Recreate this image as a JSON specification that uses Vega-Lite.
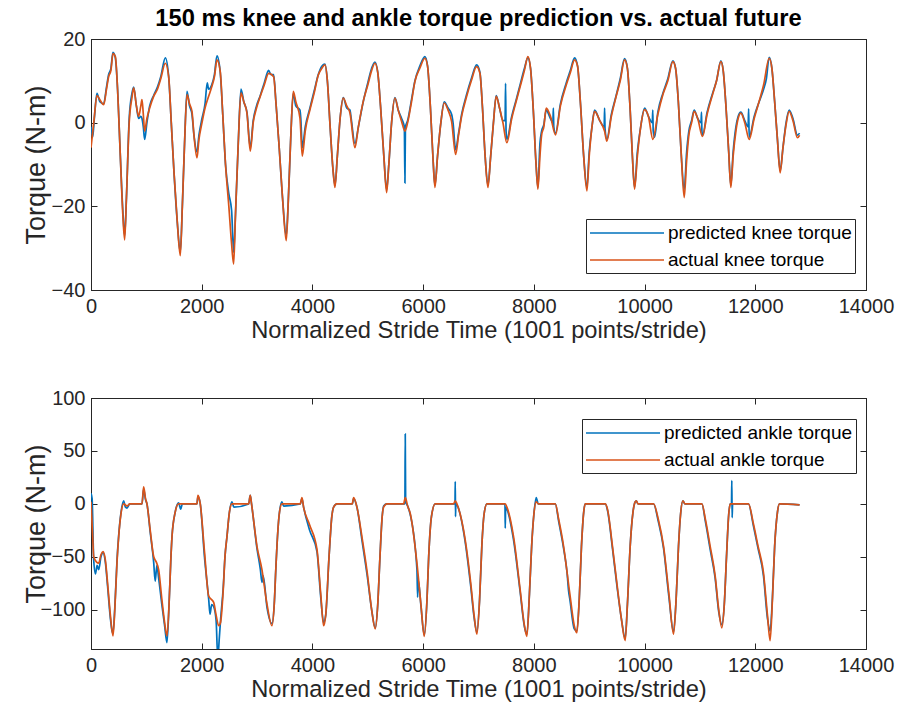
{
  "$schema": "https://vega.github.io/schema/vega-lite/v6.json",
  "background": "white",
  "padding": {"left": 21, "top": 6, "right": 4, "bottom": 8},
  "datasets": {
    "kp": [{"x":0,"y":-1},{"x":30,"y":-3.5},{"x":60,"y":1},{"x":108,"y":7},{"x":160,"y":5},{"x":229,"y":4.5},{"x":280,"y":8.5},{"x":319,"y":11.5},{"x":360,"y":13},{"x":397,"y":16.8},{"x":440,"y":15.5},{"x":480,"y":8},{"x":530,"y":-8},{"x":575,"y":-21},{"x":608,"y":-27},{"x":640,"y":-18},{"x":690,"y":1},{"x":740,"y":7},{"x":771,"y":8.5},{"x":820,"y":4},{"x":861,"y":1},{"x":900,"y":1.5},{"x":921,"y":1},{"x":945,"y":-1},{"x":969,"y":-4},{"x":1010,"y":0},{"x":1060,"y":4},{"x":1132,"y":6.5},{"x":1200,"y":8.5},{"x":1260,"y":11},{"x":1343,"y":15.5},{"x":1403,"y":11},{"x":1450,"y":0},{"x":1500,"y":-12},{"x":1560,"y":-24},{"x":1613,"y":-31},{"x":1650,"y":-20},{"x":1690,"y":-5},{"x":1734,"y":7.5},{"x":1780,"y":4},{"x":1824,"y":2},{"x":1860,"y":-3},{"x":1914,"y":-7},{"x":1950,"y":-3},{"x":2005,"y":1},{"x":2060,"y":4.5},{"x":2100,"y":9.5},{"x":2125,"y":8},{"x":2180,"y":9},{"x":2230,"y":11.5},{"x":2276,"y":16},{"x":2335,"y":12},{"x":2380,"y":2},{"x":2430,"y":-10},{"x":2490,"y":-17},{"x":2540,"y":-21},{"x":2577,"y":-31},{"x":2610,"y":-22},{"x":2660,"y":-5},{"x":2709,"y":8},{"x":2760,"y":5},{"x":2817,"y":2.5},{"x":2878,"y":-6},{"x":2930,"y":0.5},{"x":2990,"y":4},{"x":3058,"y":6.5},{"x":3130,"y":9.5},{"x":3209,"y":12.5},{"x":3250,"y":11.5},{"x":3299,"y":11.5},{"x":3340,"y":5},{"x":3400,"y":-6},{"x":3460,"y":-18},{"x":3527,"y":-27},{"x":3560,"y":-20},{"x":3610,"y":-3},{"x":3654,"y":7},{"x":3700,"y":4},{"x":3775,"y":3},{"x":3790,"y":1},{"x":3817,"y":-6},{"x":3870,"y":-1},{"x":3955,"y":3.5},{"x":4030,"y":7.5},{"x":4106,"y":11.5},{"x":4170,"y":13.5},{"x":4226,"y":14},{"x":4270,"y":10},{"x":4320,"y":-1},{"x":4370,"y":-11},{"x":4407,"y":-15},{"x":4450,"y":-8},{"x":4500,"y":1},{"x":4557,"y":6},{"x":4620,"y":3.5},{"x":4678,"y":3},{"x":4700,"y":1},{"x":4768,"y":-5},{"x":4830,"y":-1},{"x":4918,"y":5},{"x":5000,"y":9.5},{"x":5070,"y":13},{"x":5129,"y":14.5},{"x":5180,"y":12},{"x":5230,"y":4},{"x":5290,"y":-8},{"x":5340,"y":-16},{"x":5380,"y":-10},{"x":5430,"y":0},{"x":5490,"y":6},{"x":5550,"y":3},{"x":5611,"y":1},{"x":5660,"y":-1},{"x":5671,"y":-14.4},{"x":5680,"y":-1},{"x":5720,"y":0.5},{"x":5790,"y":5.5},{"x":5851,"y":10},{"x":5940,"y":13.5},{"x":6032,"y":15.8},{"x":6080,"y":13.5},{"x":6130,"y":4},{"x":6180,"y":-9},{"x":6213,"y":-15},{"x":6260,"y":-8},{"x":6320,"y":0},{"x":6381,"y":5},{"x":6450,"y":3.5},{"x":6514,"y":2},{"x":6540,"y":0},{"x":6587,"y":-6.5},{"x":6640,"y":-2.5},{"x":6695,"y":2},{"x":6780,"y":6.5},{"x":6870,"y":10.5},{"x":6966,"y":13.8},{"x":7026,"y":12},{"x":7070,"y":4},{"x":7120,"y":-8},{"x":7170,"y":-15},{"x":7220,"y":-8},{"x":7270,"y":0},{"x":7320,"y":6.5},{"x":7380,"y":3.5},{"x":7441,"y":0.5},{"x":7480,"y":0.5},{"x":7489,"y":9.4},{"x":7498,"y":-2},{"x":7513,"y":-4},{"x":7600,"y":1.5},{"x":7681,"y":5.5},{"x":7760,"y":9.5},{"x":7830,"y":13},{"x":7892,"y":15.5},{"x":7940,"y":13},{"x":7990,"y":3},{"x":8040,"y":-10},{"x":8073,"y":-15.5},{"x":8110,"y":-5},{"x":8140,"y":-2},{"x":8180,"y":-0.5},{"x":8223,"y":3},{"x":8300,"y":1},{"x":8344,"y":0},{"x":8352,"y":3.5},{"x":8360,"y":-1},{"x":8392,"y":-2.5},{"x":8480,"y":4.5},{"x":8585,"y":9.5},{"x":8660,"y":12.5},{"x":8736,"y":15.5},{"x":8790,"y":13.5},{"x":8840,"y":5},{"x":8900,"y":-8},{"x":8958,"y":-15.5},{"x":9000,"y":-7},{"x":9050,"y":-1},{"x":9097,"y":3},{"x":9190,"y":0.5},{"x":9270,"y":-1},{"x":9278,"y":3.5},{"x":9286,"y":-1.5},{"x":9319,"y":-4},{"x":9400,"y":2},{"x":9487,"y":6.5},{"x":9560,"y":10.5},{"x":9639,"y":15.3},{"x":9690,"y":13},{"x":9740,"y":3},{"x":9780,"y":-8},{"x":9819,"y":-15.5},{"x":9870,"y":-7},{"x":9930,"y":-1},{"x":10000,"y":3.5},{"x":10070,"y":1.5},{"x":10140,"y":0},{"x":10148,"y":3},{"x":10156,"y":-2},{"x":10180,"y":-3.5},{"x":10240,"y":2.5},{"x":10330,"y":7},{"x":10420,"y":10.5},{"x":10511,"y":14.8},{"x":10560,"y":13},{"x":10610,"y":5},{"x":10660,"y":-7},{"x":10716,"y":-16},{"x":10760,"y":-7},{"x":10800,"y":-2},{"x":10850,"y":0.5},{"x":10896,"y":3},{"x":10960,"y":1},{"x":11020,"y":0},{"x":11028,"y":2.5},{"x":11036,"y":-2},{"x":11047,"y":-3},{"x":11130,"y":2.5},{"x":11228,"y":7},{"x":11300,"y":10},{"x":11378,"y":14.8},{"x":11420,"y":12.5},{"x":11470,"y":4},{"x":11520,"y":-7},{"x":11558,"y":-15},{"x":11600,"y":-7},{"x":11650,"y":-1},{"x":11690,"y":1.5},{"x":11739,"y":2.5},{"x":11810,"y":0.5},{"x":11870,"y":-1},{"x":11880,"y":3.3},{"x":11890,"y":-3.5},{"x":11980,"y":1.5},{"x":12070,"y":5},{"x":12150,"y":8},{"x":12200,"y":10.5},{"x":12251,"y":15.6},{"x":12300,"y":13},{"x":12350,"y":5},{"x":12400,"y":-4},{"x":12449,"y":-11.5},{"x":12500,"y":-6},{"x":12550,"y":-0.5},{"x":12612,"y":3},{"x":12680,"y":1},{"x":12762,"y":-3},{"x":12800,"y":-2.5}],
    "ka": [{"x":0,"y":-6},{"x":50,"y":0},{"x":108,"y":6.5},{"x":160,"y":5.5},{"x":229,"y":4.3},{"x":280,"y":8},{"x":319,"y":11},{"x":360,"y":12.5},{"x":397,"y":16.5},{"x":440,"y":15.8},{"x":480,"y":8},{"x":530,"y":-8},{"x":575,"y":-22},{"x":608,"y":-28},{"x":640,"y":-18},{"x":690,"y":0},{"x":740,"y":6},{"x":771,"y":8.3},{"x":820,"y":4},{"x":861,"y":1.5},{"x":900,"y":4},{"x":921,"y":5.5},{"x":945,"y":2},{"x":969,"y":-2},{"x":1010,"y":1},{"x":1060,"y":3.5},{"x":1132,"y":6.3},{"x":1200,"y":8},{"x":1260,"y":10.5},{"x":1343,"y":14.2},{"x":1403,"y":11},{"x":1450,"y":0},{"x":1500,"y":-12},{"x":1560,"y":-24},{"x":1613,"y":-31.8},{"x":1650,"y":-20},{"x":1690,"y":-5},{"x":1734,"y":6.7},{"x":1780,"y":4.5},{"x":1824,"y":2.7},{"x":1860,"y":-3},{"x":1914,"y":-8.4},{"x":1950,"y":-4},{"x":2005,"y":0},{"x":2060,"y":3.5},{"x":2125,"y":6.3},{"x":2180,"y":8.5},{"x":2230,"y":11},{"x":2276,"y":15},{"x":2335,"y":12.2},{"x":2380,"y":2},{"x":2430,"y":-10},{"x":2490,"y":-20},{"x":2540,"y":-29},{"x":2577,"y":-33.8},{"x":2610,"y":-22},{"x":2660,"y":-5},{"x":2709,"y":7.1},{"x":2760,"y":5},{"x":2817,"y":2.3},{"x":2878,"y":-6.8},{"x":2930,"y":0},{"x":2990,"y":3.5},{"x":3058,"y":6.3},{"x":3130,"y":9},{"x":3209,"y":11.8},{"x":3299,"y":11},{"x":3340,"y":5},{"x":3400,"y":-6},{"x":3460,"y":-18},{"x":3527,"y":-28.2},{"x":3560,"y":-20},{"x":3610,"y":-3},{"x":3654,"y":7.5},{"x":3700,"y":5},{"x":3775,"y":1.1},{"x":3817,"y":-8},{"x":3870,"y":-2},{"x":3955,"y":3.1},{"x":4030,"y":7},{"x":4106,"y":11.4},{"x":4170,"y":13},{"x":4226,"y":13.8},{"x":4270,"y":10},{"x":4320,"y":-1},{"x":4370,"y":-11},{"x":4407,"y":-15.5},{"x":4450,"y":-8},{"x":4500,"y":1},{"x":4557,"y":5.9},{"x":4620,"y":4},{"x":4678,"y":2.3},{"x":4768,"y":-6},{"x":4830,"y":-1},{"x":4918,"y":5.1},{"x":5000,"y":9},{"x":5070,"y":12.5},{"x":5129,"y":14.2},{"x":5180,"y":12},{"x":5230,"y":4},{"x":5290,"y":-8},{"x":5340,"y":-16.7},{"x":5380,"y":-10},{"x":5430,"y":0},{"x":5490,"y":5.9},{"x":5550,"y":3},{"x":5611,"y":0.3},{"x":5671,"y":-2},{"x":5720,"y":0},{"x":5790,"y":5},{"x":5851,"y":9.8},{"x":5940,"y":13},{"x":6032,"y":15.4},{"x":6080,"y":13.5},{"x":6130,"y":4},{"x":6180,"y":-9},{"x":6213,"y":-15.5},{"x":6260,"y":-8},{"x":6320,"y":0},{"x":6381,"y":4.7},{"x":6450,"y":3},{"x":6514,"y":0.3},{"x":6587,"y":-7.6},{"x":6640,"y":-3},{"x":6695,"y":1.5},{"x":6780,"y":6},{"x":6870,"y":10},{"x":6966,"y":13.4},{"x":7026,"y":11.8},{"x":7070,"y":4},{"x":7120,"y":-8},{"x":7170,"y":-15.5},{"x":7220,"y":-8},{"x":7270,"y":0},{"x":7320,"y":6.3},{"x":7380,"y":3.5},{"x":7441,"y":0},{"x":7513,"y":-4.8},{"x":7600,"y":1},{"x":7681,"y":5.1},{"x":7760,"y":9},{"x":7830,"y":12.5},{"x":7892,"y":15.8},{"x":7940,"y":13},{"x":7990,"y":3},{"x":8040,"y":-10},{"x":8073,"y":-15.9},{"x":8110,"y":-8},{"x":8140,"y":-3},{"x":8180,"y":-1},{"x":8223,"y":3.5},{"x":8300,"y":1.5},{"x":8392,"y":-2.9},{"x":8480,"y":4},{"x":8585,"y":9},{"x":8660,"y":12},{"x":8736,"y":15},{"x":8790,"y":13.5},{"x":8840,"y":5},{"x":8900,"y":-8},{"x":8958,"y":-16.3},{"x":9000,"y":-8},{"x":9050,"y":-1},{"x":9097,"y":2.7},{"x":9190,"y":0.5},{"x":9277,"y":-2},{"x":9319,"y":-4.4},{"x":9400,"y":1.5},{"x":9487,"y":6.3},{"x":9560,"y":10},{"x":9639,"y":15},{"x":9690,"y":13},{"x":9740,"y":3},{"x":9780,"y":-8},{"x":9819,"y":-15.9},{"x":9870,"y":-8},{"x":9930,"y":-1},{"x":10000,"y":3.1},{"x":10070,"y":1.5},{"x":10150,"y":-4},{"x":10240,"y":2},{"x":10330,"y":6.7},{"x":10420,"y":10},{"x":10511,"y":14.6},{"x":10560,"y":13},{"x":10610,"y":5},{"x":10660,"y":-7},{"x":10716,"y":-17.9},{"x":10760,"y":-9},{"x":10800,"y":-3},{"x":10850,"y":0},{"x":10896,"y":2.7},{"x":10960,"y":1},{"x":11047,"y":-3.3},{"x":11130,"y":2},{"x":11228,"y":6.7},{"x":11300,"y":10},{"x":11378,"y":14.6},{"x":11420,"y":12.5},{"x":11470,"y":4},{"x":11520,"y":-7},{"x":11558,"y":-15.5},{"x":11600,"y":-8},{"x":11650,"y":-2},{"x":11690,"y":1},{"x":11739,"y":2.3},{"x":11810,"y":0},{"x":11890,"y":-4},{"x":11980,"y":1},{"x":12070,"y":5.1},{"x":12150,"y":9},{"x":12251,"y":15.4},{"x":12300,"y":13},{"x":12350,"y":5},{"x":12400,"y":-4},{"x":12449,"y":-12},{"x":12500,"y":-6},{"x":12550,"y":-1},{"x":12612,"y":2.7},{"x":12680,"y":0.5},{"x":12762,"y":-3.6},{"x":12800,"y":-3}],
    "ap": [{"x":0,"y":10},{"x":20,"y":5},{"x":48,"y":-52},{"x":80,"y":-66},{"x":110,"y":-58},{"x":139,"y":-62},{"x":180,"y":-50},{"x":217,"y":-46},{"x":259,"y":-55},{"x":300,"y":-78},{"x":350,"y":-108},{"x":380,"y":-120},{"x":397,"y":-122},{"x":430,"y":-98},{"x":470,"y":-53},{"x":500,"y":-30},{"x":540,"y":-9},{"x":590,"y":3},{"x":620,"y":-3},{"x":650,"y":-4},{"x":700,"y":0},{"x":921,"y":0},{"x":951,"y":14},{"x":985,"y":4},{"x":1011,"y":0},{"x":1070,"y":-27},{"x":1132,"y":-55},{"x":1160,"y":-73},{"x":1190,"y":-58},{"x":1222,"y":-70},{"x":1280,"y":-95},{"x":1330,"y":-115},{"x":1372,"y":-131},{"x":1410,"y":-95},{"x":1440,"y":-55},{"x":1463,"y":-31},{"x":1520,"y":-8},{"x":1583,"y":1},{"x":1620,"y":-5},{"x":1650,"y":0},{"x":1914,"y":0},{"x":1932,"y":7},{"x":1974,"y":0},{"x":2050,"y":-50},{"x":2126,"y":-90},{"x":2150,"y":-104},{"x":2180,"y":-95},{"x":2216,"y":-97},{"x":2260,"y":-110},{"x":2290,"y":-145},{"x":2320,"y":-125},{"x":2340,"y":-110},{"x":2390,"y":-78},{"x":2420,"y":-50},{"x":2456,"y":-31},{"x":2500,"y":-8},{"x":2546,"y":2},{"x":2580,"y":-3},{"x":2848,"y":0},{"x":2877,"y":8},{"x":2900,"y":0},{"x":2998,"y":-42},{"x":3060,"y":-62},{"x":3088,"y":-74},{"x":3110,"y":-68},{"x":3180,"y":-98},{"x":3269,"y":-113},{"x":3310,"y":-95},{"x":3340,"y":-60},{"x":3359,"y":-40},{"x":3400,"y":-10},{"x":3449,"y":2},{"x":3480,"y":-2},{"x":3780,"y":0},{"x":3811,"y":5},{"x":3840,"y":-3},{"x":3950,"y":-25},{"x":4082,"y":-45},{"x":4150,"y":-88},{"x":4202,"y":-112},{"x":4240,"y":-105},{"x":4300,"y":-50},{"x":4350,"y":-12},{"x":4383,"y":-3},{"x":4443,"y":0},{"x":4720,"y":0},{"x":4744,"y":5},{"x":4804,"y":-3},{"x":4894,"y":-34},{"x":4990,"y":-68},{"x":5070,"y":-100},{"x":5135,"y":-117},{"x":5180,"y":-95},{"x":5220,"y":-50},{"x":5260,"y":-12},{"x":5286,"y":-2},{"x":5346,"y":0},{"x":5647,"y":0},{"x":5670,"y":0},{"x":5677,"y":66},{"x":5684,"y":2},{"x":5720,"y":-2},{"x":5767,"y":-10},{"x":5888,"y":-62},{"x":5900,"y":-88},{"x":5912,"y":-72},{"x":5960,"y":-96},{"x":6020,"y":-124},{"x":6070,"y":-90},{"x":6100,"y":-50},{"x":6150,"y":-12},{"x":6218,"y":0},{"x":6550,"y":0},{"x":6575,"y":0},{"x":6580,"y":21},{"x":6585,"y":-12},{"x":6590,"y":0},{"x":6610,"y":-1},{"x":6760,"y":-36},{"x":6860,"y":-78},{"x":6920,"y":-107},{"x":6971,"y":-121},{"x":7020,"y":-90},{"x":7060,"y":-40},{"x":7100,"y":-10},{"x":7152,"y":0},{"x":7478,"y":0},{"x":7483,"y":-23},{"x":7490,"y":-3},{"x":7513,"y":-5},{"x":7633,"y":-34},{"x":7750,"y":-82},{"x":7830,"y":-116},{"x":7874,"y":-123},{"x":7920,"y":-85},{"x":7960,"y":-40},{"x":8000,"y":-10},{"x":8042,"y":6},{"x":8080,"y":0},{"x":8387,"y":0},{"x":8450,"y":-17},{"x":8537,"y":-42},{"x":8600,"y":-65},{"x":8627,"y":-82},{"x":8650,"y":-90},{"x":8730,"y":-118},{"x":8777,"y":-120},{"x":8820,"y":-90},{"x":8860,"y":-40},{"x":8900,"y":-8},{"x":8927,"y":0},{"x":9290,"y":0},{"x":9330,"y":-6},{"x":9420,"y":-42},{"x":9500,"y":-77},{"x":9580,"y":-108},{"x":9650,"y":-127},{"x":9690,"y":-95},{"x":9740,"y":-40},{"x":9790,"y":-8},{"x":9830,"y":2},{"x":9850,"y":3},{"x":9880,"y":0},{"x":10162,"y":0},{"x":10250,"y":-17},{"x":10343,"y":-42},{"x":10440,"y":-88},{"x":10523,"y":-121},{"x":10570,"y":-90},{"x":10613,"y":-40},{"x":10650,"y":-10},{"x":10692,"y":3},{"x":10730,"y":0},{"x":11035,"y":0},{"x":11100,"y":-17},{"x":11185,"y":-43},{"x":11275,"y":-70},{"x":11340,"y":-102},{"x":11396,"y":-114},{"x":11440,"y":-95},{"x":11480,"y":-50},{"x":11520,"y":-10},{"x":11546,"y":0},{"x":11570,"y":0},{"x":11576,"y":22},{"x":11582,"y":-13},{"x":11590,"y":0},{"x":11877,"y":0},{"x":11967,"y":-21},{"x":12050,"y":-42},{"x":12148,"y":-68},{"x":12220,"y":-108},{"x":12268,"y":-120},{"x":12310,"y":-88},{"x":12350,"y":-40},{"x":12400,"y":-8},{"x":12437,"y":0},{"x":12800,"y":-1}],
    "aa": [{"x":0,"y":2},{"x":30,"y":-30},{"x":48,"y":-49.7},{"x":100,"y":-55},{"x":139,"y":-56},{"x":180,"y":-48},{"x":217,"y":-45},{"x":259,"y":-52.8},{"x":300,"y":-75},{"x":350,"y":-105},{"x":397,"y":-124.7},{"x":430,"y":-100},{"x":470,"y":-55},{"x":500,"y":-31},{"x":540,"y":-10},{"x":590,"y":0},{"x":650,"y":-2},{"x":700,"y":0},{"x":921,"y":0},{"x":951,"y":16},{"x":985,"y":5},{"x":1011,"y":0},{"x":1070,"y":-25},{"x":1132,"y":-49.7},{"x":1180,"y":-55},{"x":1222,"y":-62},{"x":1280,"y":-90},{"x":1330,"y":-112},{"x":1372,"y":-124.7},{"x":1410,"y":-95},{"x":1440,"y":-55},{"x":1463,"y":-31},{"x":1520,"y":-8},{"x":1583,"y":0},{"x":1914,"y":0},{"x":1932,"y":8},{"x":1974,"y":0},{"x":2050,"y":-45},{"x":2126,"y":-87},{"x":2216,"y":-93},{"x":2260,"y":-105},{"x":2306,"y":-115},{"x":2340,"y":-112},{"x":2390,"y":-80},{"x":2420,"y":-50},{"x":2456,"y":-31},{"x":2500,"y":-8},{"x":2546,"y":0},{"x":2848,"y":0},{"x":2877,"y":8},{"x":2900,"y":0},{"x":2998,"y":-40},{"x":3088,"y":-62},{"x":3180,"y":-95},{"x":3269,"y":-115},{"x":3310,"y":-95},{"x":3340,"y":-60},{"x":3359,"y":-40},{"x":3400,"y":-10},{"x":3449,"y":0},{"x":3780,"y":0},{"x":3811,"y":6},{"x":3840,"y":-3},{"x":3950,"y":-20},{"x":4082,"y":-43},{"x":4150,"y":-85},{"x":4202,"y":-115},{"x":4240,"y":-105},{"x":4300,"y":-50},{"x":4350,"y":-12},{"x":4383,"y":-3},{"x":4443,"y":0},{"x":4720,"y":0},{"x":4744,"y":6},{"x":4804,"y":-3},{"x":4894,"y":-31},{"x":4990,"y":-65},{"x":5070,"y":-100},{"x":5135,"y":-118},{"x":5180,"y":-95},{"x":5220,"y":-50},{"x":5260,"y":-12},{"x":5286,"y":-3},{"x":5346,"y":0},{"x":5647,"y":0},{"x":5677,"y":6},{"x":5720,"y":-2},{"x":5767,"y":-9},{"x":5888,"y":-56},{"x":5960,"y":-95},{"x":6020,"y":-125},{"x":6070,"y":-90},{"x":6100,"y":-50},{"x":6150,"y":-12},{"x":6218,"y":0},{"x":6550,"y":0},{"x":6580,"y":3},{"x":6610,"y":0},{"x":6760,"y":-34},{"x":6860,"y":-75},{"x":6920,"y":-105},{"x":6971,"y":-123},{"x":7020,"y":-90},{"x":7060,"y":-40},{"x":7100,"y":-10},{"x":7152,"y":0},{"x":7483,"y":0},{"x":7513,"y":-3},{"x":7633,"y":-31},{"x":7750,"y":-80},{"x":7830,"y":-115},{"x":7874,"y":-125},{"x":7920,"y":-85},{"x":7960,"y":-40},{"x":8000,"y":-10},{"x":8042,"y":2},{"x":8080,"y":0},{"x":8387,"y":0},{"x":8450,"y":-15},{"x":8537,"y":-40},{"x":8650,"y":-85},{"x":8730,"y":-115},{"x":8777,"y":-121.6},{"x":8820,"y":-90},{"x":8860,"y":-40},{"x":8900,"y":-8},{"x":8927,"y":0},{"x":9290,"y":0},{"x":9330,"y":-5},{"x":9420,"y":-40},{"x":9500,"y":-75},{"x":9580,"y":-108},{"x":9650,"y":-129},{"x":9690,"y":-95},{"x":9740,"y":-40},{"x":9790,"y":-8},{"x":9830,"y":2},{"x":9850,"y":3},{"x":9880,"y":0},{"x":10162,"y":0},{"x":10250,"y":-15},{"x":10343,"y":-40},{"x":10440,"y":-85},{"x":10523,"y":-123},{"x":10570,"y":-90},{"x":10613,"y":-40},{"x":10650,"y":-10},{"x":10692,"y":3},{"x":10730,"y":0},{"x":11035,"y":0},{"x":11100,"y":-15},{"x":11185,"y":-40},{"x":11275,"y":-68},{"x":11340,"y":-100},{"x":11396,"y":-117},{"x":11440,"y":-95},{"x":11480,"y":-50},{"x":11520,"y":-10},{"x":11546,"y":0},{"x":11877,"y":0},{"x":11967,"y":-19},{"x":12050,"y":-40},{"x":12148,"y":-65},{"x":12220,"y":-105},{"x":12268,"y":-129},{"x":12310,"y":-90},{"x":12350,"y":-40},{"x":12400,"y":-8},{"x":12437,"y":0},{"x":12800,"y":-1}]
  },
  "vconcat": [
    {
      "width": 775,
      "height": 251,
      "title": {"text": "150 ms knee and ankle torque prediction vs. actual future", "frame": "group", "anchor": "middle", "fontSize": 23.7, "fontWeight": "bold", "color": "#000000", "font": "Liberation Sans", "offset": -2},
      "layer": [
        {
          "data": {"name": "kp"},
          "mark": {"type": "line", "strokeWidth": 1.7, "clip": true, "interpolate": "monotone"},
          "encoding": {
            "x": {"field": "x", "type": "quantitative", "scale": {"domain": [0, 14000], "nice": false, "zero": false},
                  "axis": {"orient": "bottom", "values": [0,2000,4000,6000,8000,10000,12000,14000], "format": "d", "title": "Normalized Stride Time (1001 points/stride)", "titlePadding": 2}},
            "y": {"field": "y", "type": "quantitative", "scale": {"domain": [-40, 20], "nice": false, "zero": false},
                  "axis": {"orient": "left", "values": [-40,-20,0,20], "format": "d", "title": "Torque (N-m)", "titleFontSize": 27, "titleX": -55, "titleBaseline": "middle"}},
            "color": {"datum": "predicted knee torque", "type": "nominal",
                      "scale": {"domain": ["predicted knee torque", "actual knee torque"], "range": ["#0072BD", "#D95319"]},
                      "legend": {"orient": "none", "legendX": 495, "legendY": 180}}
          }
        },
        {
          "data": {"name": "ka"},
          "mark": {"type": "line", "strokeWidth": 1.7, "clip": true, "interpolate": "monotone"},
          "encoding": {
            "x": {"field": "x", "type": "quantitative", "axis": {"orient": "top", "values": [0,2000,4000,6000,8000,10000,12000,14000], "labels": false, "title": null}},
            "y": {"field": "y", "type": "quantitative", "axis": {"orient": "right", "values": [-40,-20,0,20], "labels": false, "title": null}},
            "color": {"datum": "actual knee torque", "type": "nominal"}
          }
        }
      ],
      "resolve": {"axis": {"x": "independent", "y": "independent"}}
    },
    {
      "width": 775,
      "height": 251,
      "layer": [
        {
          "data": {"name": "ap"},
          "mark": {"type": "line", "strokeWidth": 1.7, "clip": true, "interpolate": "monotone"},
          "encoding": {
            "x": {"field": "x", "type": "quantitative", "scale": {"domain": [0, 14000], "nice": false, "zero": false},
                  "axis": {"orient": "bottom", "values": [0,2000,4000,6000,8000,10000,12000,14000], "format": "d", "title": "Normalized Stride Time (1001 points/stride)", "titlePadding": 2}},
            "y": {"field": "y", "type": "quantitative", "scale": {"domain": [-137, 100], "nice": false, "zero": false},
                  "axis": {"orient": "left", "values": [-100,-50,0,50,100], "format": "d", "title": "Torque (N-m)", "titleFontSize": 27, "titleX": -55, "titleBaseline": "middle"}},
            "color": {"datum": "predicted ankle torque", "type": "nominal",
                      "scale": {"domain": ["predicted ankle torque", "actual ankle torque"], "range": ["#0072BD", "#D95319"]},
                      "legend": {"orient": "none", "legendX": 491, "legendY": 21}}
          }
        },
        {
          "data": {"name": "aa"},
          "mark": {"type": "line", "strokeWidth": 1.7, "clip": true, "interpolate": "monotone"},
          "encoding": {
            "x": {"field": "x", "type": "quantitative", "axis": {"orient": "top", "values": [0,2000,4000,6000,8000,10000,12000,14000], "labels": false, "title": null}},
            "y": {"field": "y", "type": "quantitative", "axis": {"orient": "right", "values": [-100,-50,0,50,100], "labels": false, "title": null}},
            "color": {"datum": "actual ankle torque", "type": "nominal"}
          }
        }
      ],
      "resolve": {"axis": {"x": "independent", "y": "independent"}}
    }
  ],
  "spacing": 44,
  "resolve": {"scale": {"x": "independent", "y": "independent", "color": "independent"}, "legend": {"color": "independent"}},
  "config": {
    "font": "Liberation Sans",
    "view": {"stroke": "#262626", "strokeWidth": 1},
    "axis": {"grid": false, "domainColor": "#262626", "tickColor": "#262626", "labelColor": "#262626", "titleColor": "#262626",
             "labelFont": "Liberation Sans", "titleFont": "Liberation Sans", "labelFontSize": 20, "titleFontSize": 23.7, "titleFontWeight": "normal",
             "tickSize": -6, "labelPadding": 12, "labelFlush": false, "labelOverlap": false, "labelBound": false, "domainWidth": 1, "tickWidth": 1},
    "legend": {"title": null, "symbolType": "M-1,0L6.4,0", "symbolSize": 400, "symbolStrokeWidth": 1.7, "labelFontSize": 19, "labelFont": "Liberation Sans",
               "labelColor": "#000000", "labelLimit": 400, "labelOffset": 57, "rowPadding": 6, "padding": 3, "strokeColor": "#262626", "fillColor": "white", "cornerRadius": 0}
  }
}
